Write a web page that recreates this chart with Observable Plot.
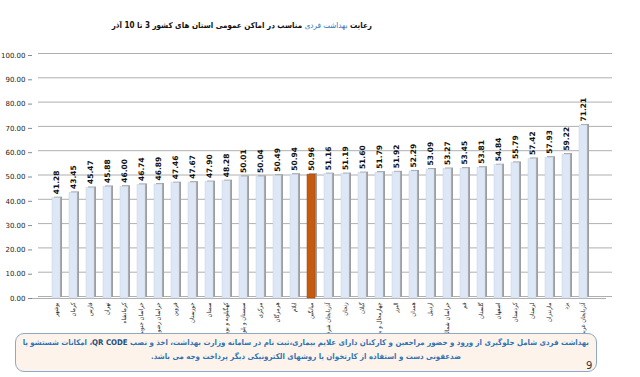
<!DOCTYPE html>
<html>
<head>
<meta charset="utf-8">
<script src="https://cdn.jsdelivr.net/npm/d3@7"></script>
<script src="https://cdn.jsdelivr.net/npm/@observablehq/plot@0.6"></script>
<style>
  html, body { margin: 0; padding: 0; background: #fff; }
  body { width: 640px; height: 377px; position: relative; overflow: hidden; font-family: "DejaVu Sans", sans-serif; }
  #title { position: absolute; top: 21px; left: 0; width: 372px; text-align: right; direction: rtl; font-size: 8px; font-weight: bold; color: #111; font-family: "DejaVu Sans Condensed", "DejaVu Sans", sans-serif; }
  #title .hl { color: #2e74b5; font-weight: normal; }
  #chart { position: absolute; top: 40px; left: 0; }
  #caption { position: absolute; top: 333px; left: 15px; width: 566px; height: 33px; padding: 2px 7px; border: 1px solid #8ea9c8; border-radius: 9px; background: #fdf3ea; direction: rtl; text-align: center; color: #2e74b5; font-size: 7.8px; font-weight: bold; line-height: 14px; box-sizing: content-box; font-family: "DejaVu Sans Condensed", "DejaVu Sans", sans-serif; white-space: nowrap; }
  #caption .qr { unicode-bidi: isolate; color: #1f4e79; }
  #page { position: absolute; top: 360px; left: 586px; font-size: 10px; color: #333; }
</style>
</head>
<body>
<div id="title">رعایت <span class="hl">بهداشت فردی</span> مناسب در اماکن عمومی استان های کشور 3 تا 10 آذر</div>
<div id="chart"></div>
<div id="caption">بهداشت فردی شامل جلوگیری از ورود و حضور مراجعین و کارکنان دارای علایم بیماری،ثبت نام در سامانه وزارت بهداشت، اخذ و نصب <span class="qr">QR CODE</span>، امکانات شستشو یا<br>ضدعفونی  دست و استفاده از کارتخوان یا روشهای الکترونیکی دیگر پرداخت وجه می باشد.</div>
<div id="page">9</div>
<script>
const provinces = ["بوشهر","کرمان","فارس","تهران","کرمانشاه","خراسان جنوبی","خراسان رضوی","قزوین","خوزستان","سمنان","کهگیلویه و بویراحمد","سیستان و بلوچستان","مرکزی","هرمزگان","ایلام","میانگین","آذربایجان شرقی","زنجان","گیلان","چهارمحال و بختیاری","البرز","همدان","اردبیل","خراسان شمالی","قم","گلستان","اصفهان","کردستان","لرستان","مازندران","یزد","آذربایجان غربی"];
const values = [41.28,43.45,45.47,45.88,46.00,46.74,46.89,47.46,47.67,47.90,48.28,50.01,50.04,50.49,50.94,50.96,51.16,51.19,51.60,51.79,51.92,52.29,53.09,53.27,53.45,53.81,54.84,55.79,57.42,57.93,59.22,71.21];
const averageLabel = "میانگین";
const yTicks = [0,10,20,30,40,50,60,70,80,90,100];

const data = provinces.map((p, i) => ({name: p, value: values[i]}));

const chart = Plot.plot({
  width: 640,
  height: 300,
  marginLeft: 32,
  marginRight: 34,
  marginTop: 15,
  marginBottom: 42,
  style: {fontFamily: "DejaVu Sans, sans-serif", fontSize: "7px", color: "#222"},
  x: {domain: provinces, padding: 0.55, label: null},
  y: {domain: [0, 100], label: null},
  marks: [
    Plot.gridY(yTicks, {stroke: "#9a9a9a", strokeOpacity: 1, strokeWidth: 0.8, dx: 6, dy: -2}),
    Plot.ruleY([0], {stroke: "#9a9a9a", strokeWidth: 0.8}),
    Plot.ruleX([0], {stroke: "#9a9a9a"}),
    Plot.axisY({ticks: yTicks, tickFormat: d => d.toFixed(2), tickSize: 4, tickPadding: 3, fontSize: 7, stroke: "#888"}),
    Plot.barY(data, {x: "name", y: "value", fill: "#9e9e9e", dx: 2, dy: -1}),
    Plot.barY(data, {x: "name", y: "value", fill: d => d.name === averageLabel ? "#c55a11" : "#dde7f5", stroke: d => d.name === averageLabel ? "#a0450a" : "#c5d3e8", strokeWidth: 0.5}),
    Plot.text(data, {x: "name", y: "value", text: d => d.value.toFixed(2), rotate: -90, textAnchor: "start", dy: -4, fontWeight: "bold", fontSize: 7.5, fill: "#111"}),
    Plot.axisX({tickSize: 0, tickRotate: -90, tickPadding: 4, fontSize: 6, label: null, fontFamily: "DejaVu Sans Condensed, DejaVu Sans, sans-serif"})
  ]
});
document.getElementById("chart").appendChild(chart);
</script>
</body>
</html>
